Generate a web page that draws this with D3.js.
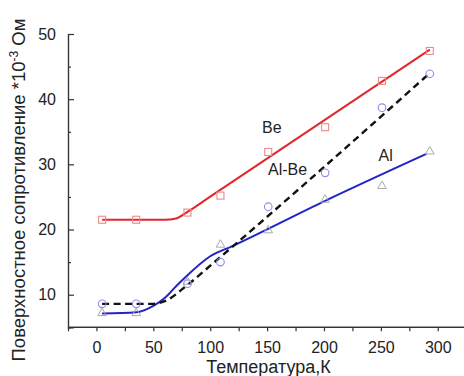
<!DOCTYPE html>
<html><head><meta charset="utf-8">
<script src="https://cdn.jsdelivr.net/npm/d3@7"></script>
<style>
body{margin:0;background:#fff;}
svg{display:block;font-family:"Liberation Sans",Arial,sans-serif;}
</style></head>
<body><svg id="c" width="464" height="376"></svg>
<script>
// Measured points
const temps = [5, 35, 80, 109, 151, 201, 251, 293];
const beValues = [21.5, 21.5, 22.6, 25.2, 31.9, 35.7, 42.8, 47.4];
const alBeValues = [8.6, 8.6, 11.7, 15.0, 23.5, 28.7, 38.7, 43.9];
const alValues = [7.1, 7.1, 11.9, 17.6, 19.8, 24.5, 26.6, 31.9];
// Fitted curves
const beFitT = [5, 60, 70, 80, 100, 293];
const beFitV = [21.5, 21.5, 21.7, 22.7, 25.05, 47.6];
const alBeFitT = [5, 50, 60, 80, 103, 293];
const alBeFitV = [8.6, 8.6, 9.0, 11.5, 14.9, 44.0];
const alFitT = [5, 35, 50, 60, 70, 80, 100, 120, 201, 290];
const alFitV = [7.1, 7.3, 8.3, 9.5, 11.3, 13.0, 15.9, 17.5, 24.4, 31.6];
const xTicks = [0, 50, 100, 150, 200, 250, 300];
const xMinor = [-25, 25, 75, 125, 175, 225, 275, 325];
const yTicks = [10, 20, 30, 40, 50];
const yMinor = [15, 25, 35, 45];
const labels = ["Be", "Al-Be", "Al"];

const svg = d3.select("#c");
const x = d3.scaleLinear().domain([-25, 325]).range([68, 466.2]);
const y = d3.scaleLinear().domain([5, 50]).range([327.3, 34]);

// axes
const gx = svg.append("g").attr("transform", `translate(0,${y(5)})`);
gx.call(d3.axisBottom(x).tickValues(xTicks).tickSize(4).tickPadding(10).tickFormat(d3.format("d")));
gx.append("g").call(d3.axisBottom(x).tickValues(xMinor).tickSize(4).tickFormat(""));
const gy = svg.append("g").attr("transform", `translate(${x(-25)},0)`);
gy.call(d3.axisLeft(y).tickValues(yTicks).tickSize(-6).tickPadding(12).tickFormat(d3.format("d")));
gy.append("g").call(d3.axisLeft(y).tickValues(yMinor).tickSize(-3).tickFormat(""));
svg.selectAll(".domain").attr("stroke", "#333").attr("stroke-width", 1.2);
svg.selectAll(".tick line").attr("stroke", "#333").attr("stroke-width", 1.2);
svg.selectAll(".tick text").attr("font-size", 16).attr("fill", "#222").attr("font-family", "Liberation Sans, Arial, sans-serif");
gx.selectAll("path.domain").attr("d", `M${x(-25)},0H464`);

const line = d3.line().x(d => x(d[0])).y(d => y(d[1])).curve(d3.curveMonotoneX);
const zip = (a, b) => a.map((t, i) => [t, b[i]]);

svg.append("path").attr("d", line(zip(beFitT, beFitV))).attr("fill", "none").attr("stroke", "#e3262c").attr("stroke-width", 2);
svg.append("path").attr("d", line(zip(alFitT, alFitV))).attr("fill", "none").attr("stroke", "#2222cc").attr("stroke-width", 2);
svg.append("path").attr("d", line(zip(alBeFitT, alBeFitV))).attr("fill", "none").attr("stroke", "#111").attr("stroke-width", 2.4).attr("stroke-dasharray", "7,4.5");

// markers
svg.append("g").selectAll("rect").data(zip(temps, beValues)).join("rect")
  .attr("x", d => x(d[0]) - 3.5).attr("y", d => y(d[1]) - 3.5).attr("width", 7).attr("height", 7)
  .attr("fill", "none").attr("stroke", "#ee8a8a").attr("stroke-width", 1.1);
svg.append("g").selectAll("circle").data(zip(temps, alBeValues)).join("circle")
  .attr("cx", d => x(d[0])).attr("cy", d => y(d[1])).attr("r", 3.8)
  .attr("fill", "none").attr("stroke", "#8b8bf0").attr("stroke-width", 1.1);
const tri = d3.symbol().type(d3.symbolTriangle).size(32);
svg.append("g").selectAll("path").data(zip(temps, alValues)).join("path")
  .attr("d", tri).attr("transform", d => `translate(${x(d[0])},${y(d[1]) - 0.5})`)
  .attr("fill", "none").attr("stroke", "#aaa").attr("stroke-width", 1);

// series labels
svg.append("g").selectAll("text").data(labels).join("text")
  .attr("font-size", 16).attr("fill", "#222")
  .text(d => d)
  .attr("x", (d, i) => [262, 268, 378.5][i])
  .attr("y", (d, i) => [133, 175, 161][i]);

// axis titles
svg.append("text").attr("x", 268.5).attr("y", 373).attr("text-anchor", "middle").attr("font-size", 18).attr("fill", "#222").text("Температура,К");
const yt = svg.append("text").attr("transform", "translate(25,190) rotate(-90)").attr("text-anchor", "middle").attr("font-size", 18.5).attr("fill", "#222");
yt.append("tspan").text("Поверхностное сопротивление *10");
yt.append("tspan").attr("font-size", 12).attr("dy", -7).text("-3");
yt.append("tspan").attr("dy", 7).text(" Ом");
</script></body></html>
